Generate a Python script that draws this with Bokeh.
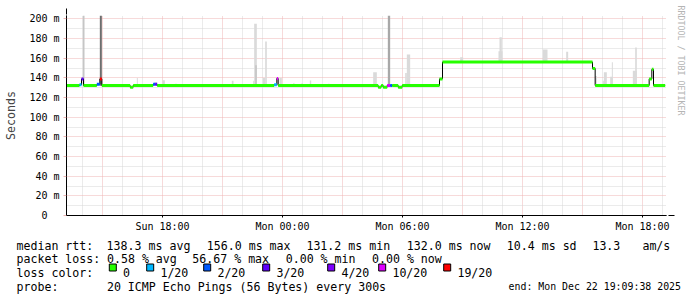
import math
from bokeh.plotting import figure
from bokeh.models import (FixedTicker, Arrow, NormalHead, ColumnDataSource, Range1d, Title)
from bokeh.layouts import column
from bokeh.core.properties import value
from bokeh.embed import file_html
from bokeh.resources import INLINE

# ---------------------------------------------------------------- data
window_start = "Sun 13:12"
window_end = "Mon 19:12"

# median RTT (ms), constant from each start time until the next one
med_start = ["Sun 13:12", "Sun 13:51", "Sun 13:57", "Sun 14:03", "Sun 14:43",
             "Sun 14:52", "Sun 14:58", "Sun 16:23", "Sun 16:32", "Sun 17:32",
             "Sun 17:38", "Sun 17:44", "Sun 23:35", "Sun 23:43", "Sun 23:47",
             "Mon 04:47", "Mon 04:56", "Mon 05:02", "Mon 05:14", "Mon 05:23",
             "Mon 05:29", "Mon 05:47", "Mon 05:59", "Mon 07:51", "Mon 08:00",
             "Mon 15:30", "Mon 15:38", "Mon 18:20", "Mon 18:28", "Mon 18:33"]
med_stop = "Mon 19:08"
med_rtt_ms = [132.3, 133.0, 139.0, 132.3, 133.5,
              139.0, 132.3, 130.5, 132.3, 133.5,
              133.5, 132.3, 133.0, 139.5, 132.3,
              130.5, 132.3, 130.5, 132.3, 132.3,
              132.3, 130.5, 132.3, 139.0, 156.2,
              149.6, 132.3, 139.0, 148.7, 132.3]
med_lost = [0, 1, 3, 0, 2,
            19, 0, 0, 0, 2,
            3, 0, 1, 10, 0,
            0, 0, 0, 10, 2,
            0, 0, 0, 0, 0,
            0, 0, 0, 0, 0]

# smoke: spread of the pings in a step (ms) and its density (1 light .. 4 dark)
smoke_start = ["Sun 14:01", "Sun 14:52", "Sun 16:43", "Sun 18:00", "Sun 17:35",
               "Sun 18:38", "Sun 21:28", "Sun 22:32", "Sun 22:35", "Sun 22:38",
               "Sun 23:01", "Sun 23:08", "Sun 23:51", "Mon 00:32", "Mon 00:57",
               "Mon 01:22", "Mon 02:17", "Mon 04:32", "Mon 05:16", "Mon 06:08",
               "Mon 06:13", "Mon 08:53", "Mon 10:48", "Mon 10:51", "Mon 13:01",
               "Mon 14:11", "Mon 15:38", "Mon 16:01", "Mon 16:04", "Mon 16:23",
               "Mon 16:28", "Mon 17:31", "Mon 17:38"]
smoke_stop = ["Sun 14:06", "Sun 14:58", "Sun 16:46", "Sun 18:07", "Sun 17:44",
              "Sun 18:43", "Sun 21:33", "Sun 22:35", "Sun 22:43", "Sun 22:43",
              "Sun 23:08", "Sun 23:13", "Sun 23:58", "Mon 00:36", "Mon 01:01",
              "Mon 01:26", "Mon 02:21", "Mon 04:43", "Mon 05:23", "Mon 06:13",
              "Mon 06:23", "Mon 09:02", "Mon 11:00", "Mon 10:58", "Mon 13:15",
              "Mon 14:17", "Mon 15:43", "Mon 16:04", "Mon 16:13", "Mon 16:31",
              "Mon 16:31", "Mon 17:43", "Mon 17:43"]
smoke_low_ms = [132, 132, 132, 132, 132,
                132, 132, 132, 132, 132,
                132, 132, 132, 132, 132,
                132, 132, 132, 132, 132,
                132, 156, 156, 156, 156,
                156, 132, 132, 132, 132,
                132, 132, 132]
smoke_high_ms = [203.5, 203.5, 140.0, 137.5, 135.5,
                 134.0, 137.0, 137.0, 195.0, 153.0,
                 140.0, 177.0, 140.0, 134.6, 134.6,
                 137.4, 134.0, 145.7, 203.5, 145.0,
                 163.7, 161.0, 167.0, 181.4, 169.0,
                 166.7, 142.0, 137.0, 145.7, 141.3,
                 156.0, 147.4, 171.0]
smoke_density = [2, 4, 1, 1, 1,
                 1, 1, 1, 1, 2,
                 1, 1, 1, 1, 1,
                 1, 1, 1, 3, 1,
                 1, 1, 1, 1, 1,
                 1, 1, 1, 1, 1,
                 1, 1, 1]

# axes
y_ticks_ms = [0, 20, 40, 60, 80, 100, 120, 140, 160, 180, 200]
y_tick_labels = ["0\u00a0\u00a0", "20 m", "40 m", "60 m", "80 m", "100 m", "120 m",
                 "140 m", "160 m", "180 m", "200 m"]
x_tick_labels = ["Sun 18:00", "Mon 00:00", "Mon 06:00", "Mon 12:00", "Mon 18:00"]

# loss legend
loss_levels = [0, 1, 2, 3, 4, 10, 19]
loss_names = ["0", "1/20", "2/20", "3/20", "4/20", "10/20", "19/20"]
loss_colors = ["#26ff00", "#00b8ff", "#0059ff", "#5e00ff", "#7e00ff", "#dd00ff", "#ff0000"]

# statistics
rtt_stat_names = ["avg", "max", "min", "now"]
rtt_stat_ms = [138.3, 156.0, 131.2, 132.0]
rtt_sd_ms = 10.4
rtt_am_s = 13.3
loss_stat_names = ["avg", "max", "min", "now"]
loss_stat_pct = [0.58, 56.67, 0.00, 0.00]
probe_text = "20 ICMP Echo Pings (56 Bytes) every 300s"
end_text = "end: Mon Dec 22 19:09:38 2025"
watermark = "RRDTOOL / TOBI OETIKER"

# ---------------------------------------------------------------- helpers
DAYS = {"Sun": 0, "Mon": 24}


def to_h(s):
    day, t = s.split()
    parts = [int(v) for v in t.split(":")]
    h = parts[0] + parts[1] / 60 + (parts[2] / 3600 if len(parts) > 2 else 0)
    return DAYS[day] + h


X0, X1 = to_h(window_start), to_h(window_end)
Y_TOP = 203.5
W = 697
FL, FT, FW, FH = 66, 15, 600, 200
MAIN_H = 235
LEG_H = 297 - MAIN_H


def cy(py):
    return (FT + FH - py) * Y_TOP / FH


def cx(px):
    return X0 + (px - FL) * (X1 - X0) / FW


def loss_color(n):
    c = loss_colors[0]
    for lvl, col in zip(loss_levels, loss_colors):
        if n >= lvl:
            c = col
    return c


MONO = "DejaVu Sans Mono"
SMOKE_SHADES = {1: "#dadada", 2: "#c6c6c6", 3: "#a8a8a8", 4: "#6e6e6e"}
RED_GRID = "#eeb4b4"
GRAY_GRID = "#d6d6d6"

# ---------------------------------------------------------------- main figure
p = figure(width=W, height=MAIN_H, output_backend="svg", toolbar_location=None,
           x_range=Range1d(X0, X1), y_range=Range1d(0, Y_TOP),
           min_border_left=FL, min_border_right=W - FL - FW,
           min_border_top=FT, min_border_bottom=MAIN_H - FT - FH)
p.frame_align = False
p.outline_line_color = None
p.background_fill_color = "white"
p.border_fill_color = "white"

# grids
p.xgrid.ticker = FixedTicker(ticks=[h for h in range(15, 44, 3)],
                             minor_ticks=[h for h in range(14, 44) if h % 3])
p.ygrid.ticker = FixedTicker(ticks=y_ticks_ms[1:], minor_ticks=list(range(10, 200, 20)))
for g in (p.xgrid[0], p.ygrid[0]):
    g.grid_line_color = RED_GRID
    g.grid_line_dash = "1 1"
    g.grid_line_width = 1
    g.minor_grid_line_color = GRAY_GRID
    g.minor_grid_line_dash = "1 1"
    g.minor_grid_line_width = 1

# smoke
smoke = ColumnDataSource(dict(
    left=[to_h(s) for s in smoke_start], right=[to_h(s) for s in smoke_stop],
    bottom=smoke_low_ms, top=smoke_high_ms,
    color=[SMOKE_SHADES[d] for d in smoke_density]))
p.quad(left="left", right="right", bottom="bottom", top="top", fill_color="color",
       line_color=None, source=smoke)

# median: thin dark step line, then loss-coloured thick pieces
xs = [to_h(s) for s in med_start] + [to_h(med_stop)]
p.step(x=xs, y=med_rtt_ms + [med_rtt_ms[-1]], mode="after", line_color="#000000",
       line_width=1)
med = ColumnDataSource(dict(x0=xs[:-1], x1=xs[1:], y=med_rtt_ms,
                            color=[loss_color(n) for n in med_lost]))
p.segment(x0="x0", x1="x1", y0="y", y1="y", line_color="color", line_width=3,
          line_cap="butt", source=med)

# axes
for ax in (p.xaxis[0], p.yaxis[0]):
    ax.axis_line_color = "#000000"
    ax.major_tick_line_color = "#000000"
    ax.minor_tick_line_color = None
    ax.major_label_text_font = MONO
    ax.major_label_text_font_size = "10px"
    ax.major_label_text_color = "#000000"

p.xaxis.ticker = FixedTicker(ticks=[to_h(s) for s in x_tick_labels], minor_ticks=[])
p.xaxis.major_label_overrides = {to_h(s): s for s in x_tick_labels}
p.xaxis.major_tick_in = 0
p.xaxis.major_tick_out = 2
p.xaxis.major_label_standoff = 3

p.yaxis.ticker = FixedTicker(ticks=y_ticks_ms, minor_ticks=[])
p.yaxis.major_label_overrides = {t: s for t, s in zip(y_ticks_ms, y_tick_labels)}
p.yaxis.major_tick_in = 0
p.yaxis.major_tick_out = 3
p.yaxis.major_tick_line_color = RED_GRID
p.yaxis.major_label_standoff = 4
p.yaxis.axis_label = "Seconds"
p.yaxis.axis_label_text_font = MONO
p.yaxis.axis_label_text_font_size = "11.6px"
p.yaxis.axis_label_text_font_style = "normal"
p.yaxis.axis_label_standoff = 8

# axis arrows
ARROW = "#7f1f1f"
p.add_layout(Arrow(end=NormalHead(size=6, fill_color=ARROW, line_color=ARROW),
                   x_start=X0, y_start=cy(219), x_end=X0, y_end=cy(8),
                   line_color="#000000", line_width=1))
p.add_layout(Arrow(end=NormalHead(size=6, fill_color=ARROW, line_color=ARROW),
                   x_start=cx(62), y_start=0, x_end=cx(674), y_end=0,
                   line_color="#000000", line_width=1))

# watermark on the right
p.add_layout(Title(text=watermark, align="left", text_font=MONO, text_font_size="8.3px",
                   text_font_style="normal", text_color="#b4b4b4", standoff=19,
                   offset=-10), "right")

# ---------------------------------------------------------------- legend strip
leg = figure(width=W, height=LEG_H, output_backend="svg", toolbar_location=None,
             x_range=Range1d(0, W), y_range=Range1d(MAIN_H + LEG_H, MAIN_H),
             x_axis_type=None, y_axis_type=None,
             min_border_left=0, min_border_right=0, min_border_top=0, min_border_bottom=0)
leg.frame_align = False
leg.outline_line_color = None
leg.grid.visible = False
leg.background_fill_color = "white"
leg.border_fill_color = "white"

txt_x, txt_y, txt_s = [], [], []


def put(text, px, py):
    txt_x.append(px)
    txt_y.append(py)
    txt_s.append(text)


ROWS = [245.0, 258.7, 272.4, 286.1]
put("median rtt:", 16, ROWS[0])
for name, v, px in zip(rtt_stat_names, rtt_stat_ms, [106.1, 206.3, 305.9, 406.3]):
    put(f"{v:.1f} ms {name}", px, ROWS[0])
put(f"{rtt_sd_ms:.1f} ms sd", 506.3, ROWS[0])
put(f"{rtt_am_s:.1f}", 591.9, ROWS[0])
put("am/s", 641.9, ROWS[0])

put("packet loss:", 16, ROWS[1])
for name, v, px in zip(loss_stat_names, loss_stat_pct, [106.5, 191.8, 285.2, 371.5]):
    put(f"{v:.2f} % {name}", px, ROWS[1])

put("loss color:", 16, ROWS[2])
box_left = [108.3, 145.7, 202.7, 261.7, 326.7, 377.7, 442.7]
for name, bx in zip(loss_names, box_left):
    put(name, bx + 14.2, ROWS[2])

put("probe:", 16, ROWS[3])
put(probe_text, 106.4, ROWS[3])

leg.quad(left=[b + 0.5 for b in box_left], right=[b + 7.5 for b in box_left],
         top=[263.5] * len(box_left), bottom=[270.5] * len(box_left),
         fill_color=loss_colors, line_color="#000000", line_width=1)
leg.text(x=txt_x, y=txt_y, text=txt_s, text_font=value(MONO), text_font_size="11.6px",
         text_color="#000000", text_align="left", text_baseline="alphabetic")
# the end stamp is set in a slightly narrower pitch, flush with the right edge
leg.text(x=[680.5], y=[ROWS[3]], text=[end_text], text_font=value(MONO),
         text_font_size="9.9px", text_color="#000000", text_align="right",
         text_baseline="alphabetic")

layout = column(p, leg, spacing=0)
open("out.html", "w").write(file_html(layout, INLINE))
